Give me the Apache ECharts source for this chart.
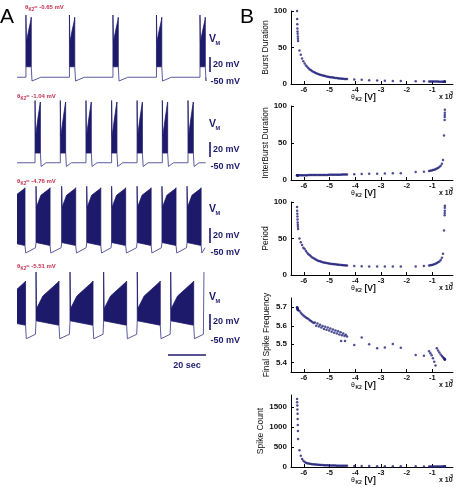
<!DOCTYPE html>
<html>
<head>
<meta charset="utf-8">
<script src="https://cdn.jsdelivr.net/npm/echarts/dist/echarts.min.js"></script>
<style>
  html, body { margin: 0; padding: 0; background: #fff; }
  #chart { width: 457px; height: 487px; }
</style>
</head>
<body>
<div id="chart"></div>
<script>
// ---- panel A: membrane traces, burst onsets in seconds
const traceLabels = ['-0.65', '-1.04', '-4.76', '-5.51'];
const burstOn1 = [4.7, 27.6, 50.5, 73.4, 96.3];
const burstOn2 = [9.5, 22.8, 36.3, 49.8, 63.2, 76.5, 90.0];
const burstOn3 = [-3.2, 10.0, 23.5, 36.7, 49.8, 63.2, 76.3, 89.5];
const burstOn4 = [-7.6, 10.0, 27.9, 45.6, 63.3, 80.9];
const burstLen = [2.8, 2.8, 7.4, 12.1];
const traceEnd = [99.3, 99.3, 99.3, 98.4];

// ---- panel B: parameter sweep (theta_K2, x1e-3 V) and the five measures
const thetaK2 = [
  -6.265, -6.26, -6.255, -6.25, -6.245, -6.24, -6.235, -6.23, -6.225,
  -6.17, -6.12, -6.07, -6.02, -5.97, -5.92, -5.87, -5.82, -5.77, -5.72,
  -5.67, -5.62, -5.57, -5.52, -5.47, -5.42, -5.37, -5.32, -5.27, -5.22,
  -5.17, -5.12, -5.07, -5.02, -4.97, -4.92, -4.87, -4.82, -4.77, -4.72,
  -4.67, -4.62, -4.57, -4.52, -4.47, -4.42, -4.37, -4.32,
  -4.04, -3.75, -3.46, -3.15, -2.85, -2.54, -2.23, -1.65, -1.33,
  -1.13, -1.08, -1.03, -0.98, -0.93, -0.88, -0.83, -0.78, -0.73, -0.68,
  -0.63, -0.59, -0.55, -0.525, -0.522, -0.52, -0.518, -0.515
];
const burstDuration = [
  100, 89, 82, 76, 72, 69, 65, 62, 59,
  46, 40, 35, 31, 28, 25.5, 23.5, 21.5, 20, 18.7,
  17.5, 16.5, 15.6, 14.8, 14.1, 13.4, 12.8, 12.2, 11.7, 11.2,
  10.8, 10.4, 10.0, 9.7, 9.4, 9.1, 8.8, 8.6, 8.3, 8.1,
  7.9, 7.7, 7.5, 7.3, 7.2, 7.0, 6.9, 6.7,
  6.3, 5.7, 5.2, 4.8, 4.5, 4.2, 4.0, 3.7, 3.6,
  3.5, 3.5, 3.4, 3.4, 3.4, 3.3, 3.3, 3.3, 3.2, 3.2,
  3.2, 3.1, 3.1, 3.0, 3.0, 3.0, 3.0, 3.0
];
const interBurst = [
  6.3, 6.3, 6.3, 6.3, 6.3, 6.3, 6.3, 6.3, 6.3,
  6.4, 6.4, 6.4, 6.5, 6.5, 6.5, 6.5, 6.6, 6.6, 6.6,
  6.6, 6.7, 6.7, 6.7, 6.7, 6.8, 6.8, 6.8, 6.8, 6.9,
  6.9, 6.9, 6.9, 7.0, 7.0, 7.0, 7.0, 7.1, 7.1, 7.1,
  7.2, 7.2, 7.2, 7.3, 7.3, 7.3, 7.4, 7.4,
  7.8, 8.1, 8.3, 8.6, 8.8, 9.0, 9.2, 10.8, 11.3,
  12.0, 12.4, 12.9, 13.4, 14.0, 14.6, 15.4, 16.3, 17.4, 19.2,
  22.0, 27.0, 60, 81, 85, 88, 91, 95
];
const period = [
  93, 88, 84, 80, 76, 72, 69, 66, 63,
  50, 45, 41, 37.5, 35.5, 33, 30.5, 28.5, 27, 25.2,
  24, 23, 21.8, 20.8, 20, 19.3, 18.7, 18.1, 17.6, 17.2,
  16.8, 16.4, 16.1, 15.8, 15.5, 15.2, 15.0, 14.8, 14.6, 14.4,
  14.2, 14.0, 13.8, 13.6, 13.5, 13.3, 13.1, 13.0,
  12.5, 12.0, 11.8, 11.6, 11.5, 11.5, 11.5, 11.8, 12.2,
  13.0, 13.3, 13.7, 14.2, 14.8, 15.5, 16.3, 17.3, 18.6, 20.5,
  23.5, 29, 61, 82, 85, 88, 92, 95
];
const finalFreq = [
  5.700, 5.698, 5.696, 5.694, 5.692, 5.690, 5.688, 5.686, 5.684,
  5.680, 5.670, 5.662, 5.655, 5.650, 5.645, 5.640, 5.636, 5.630, 5.626,
  5.620, 5.615, 5.618, 5.600, 5.612, 5.596, 5.605, 5.590, 5.598, 5.582,
  5.594, 5.578, 5.590, 5.574, 5.585, 5.568, 5.580, 5.562, 5.575, 5.558,
  5.570, 5.553, 5.565, 5.548, 5.558, 5.545, 5.552, 5.542,
  5.496, 5.537, 5.500, 5.478, 5.483, 5.501, 5.481, 5.442, 5.438,
  5.462, 5.452, 5.440, 5.425, 5.405, 5.385, 5.478, 5.466, 5.455, 5.445,
  5.437, 5.430, 5.424, 5.420, 5.420, 5.419, 5.418, 5.417
];
const finalFreqExtraTheta = [-4.55, -4.40];
const finalFreqExtra = [5.517, 5.517];
const spikeCount = [
  1700, 1620, 1540, 1440, 1330, 1200, 1050, 900, 700,
  420, 280, 200, 155, 125, 108, 96, 88, 81, 76,
  71, 67, 63, 60, 57, 54, 52, 50, 48, 46,
  44, 43, 41, 40, 39, 38, 37, 36, 35, 34,
  33, 32, 32, 31, 30, 30, 29, 29,
  26, 24, 22, 21, 20, 19, 18, 16, 15,
  14, 14, 14, 13, 13, 13, 13, 13, 12, 12,
  12, 12, 12, 12, 12, 12, 12, 12
];
const xTicks = [-6, -5, -4, -3, -2, -1];

const FONT = '"Liberation Sans", Arial, sans-serif';
const NAVY = '#1e1a6b';
const TRACE = '#5b5b9e';
const RED = '#c43050';
const DOT = '#22227a';

// waveform shape of each run, in mV
const shapes = [
  { rest: -45, ahp: -50, recov: 5, floor0: -31, floor1: -31, first: 38, top0: 2, midAt: 0.5, topMid: 17, top1: 31, last: 35, slow: false, upEnd: false },
  { rest: -45, ahp: -50, recov: 3, floor0: -32, floor1: -32, first: 38, top0: -10, midAt: 0.5, topMid: 12, top1: 33, last: 36, slow: false, upEnd: false },
  { rest: -43, ahp: -50, recov: 0, floor0: -36, floor1: -40, first: 39, top0: 11, midAt: 0.35, topMid: 27, top1: 36, last: 37, slow: true, upEnd: false },
  { rest: -43, ahp: -49, recov: 0, floor0: -25, floor1: -31, first: 40, top0: -9, midAt: 0.3, topMid: 8, top1: 27, last: 28, slow: true, upEnd: true }
];
const traceTops = [13.5, 99, 185.5, 272];

function makeBurst(cfg, len) {
  return function (params, api) {
    const s = api.value(0), next = api.value(1), hasNext = api.value(2) === 1;
    const e = s + len;
    const c = (t, v) => api.coord([t, v]);
    const body = [c(s, cfg.floor0), c(s, cfg.first), c(s + 0.25, cfg.top0),
      c(s + cfg.midAt * len, cfg.topMid), c(e - 0.2, cfg.top1), c(e, cfg.last), c(e, cfg.floor1)];
    let tail;
    if (cfg.slow) {
      tail = [c(e, cfg.floor1), c(e + 0.4, cfg.ahp), c(next - 0.3, cfg.rest)];
    } else {
      tail = [c(e, cfg.floor1), c(e + 0.4, cfg.ahp), c(Math.min(e + cfg.recov, next), cfg.rest), c(next, cfg.rest)];
    }
    if (hasNext) tail.push(c(next, cfg.floor0));
    else if (cfg.upEnd) tail.push(c(next, cfg.first));
    const children = [
      { type: 'polygon', shape: { points: body }, style: { fill: NAVY, stroke: NAVY, lineWidth: 0.8 } },
      { type: 'polyline', shape: { points: tail }, style: { fill: null, stroke: TRACE, lineWidth: 1 } }
    ];
    if (params.dataIndex === 0 && s > 0) {
      children.push({ type: 'polyline', shape: { points: [c(0, cfg.rest), c(s, cfg.rest), c(s, cfg.floor0)] },
        style: { fill: null, stroke: TRACE, lineWidth: 1 } });
    }
    return { type: 'group', children: children };
  };
}

const grid = [], xAxis = [], yAxis = [], series = [];
const bursts = [burstOn1, burstOn2, burstOn3, burstOn4];
bursts.forEach(function (on, k) {
  grid.push({ left: 17, top: traceTops[k], width: 190, height: 75 });
  xAxis.push({ gridIndex: k, type: 'value', min: 0, max: 100, show: false });
  yAxis.push({ gridIndex: k, type: 'value', min: -60, max: 40, show: false });
  series.push({
    type: 'custom', xAxisIndex: k, yAxisIndex: k, clip: true, silent: true,
    renderItem: makeBurst(shapes[k], burstLen[k]),
    data: on.map((s, i) => [s, i + 1 < on.length ? on[i + 1] : traceEnd[k], i + 1 < on.length ? 1 : 0])
  });
});

// right panel axes
const panels = [
  { name: 'Burst Duration', top: 11, height: 73, min: 0, max: 100, ticks: [0, 50, 100], gap: 20, data: burstDuration },
  { name: 'InterBurst Duration', top: 106, height: 74, min: 0, max: 100, ticks: [0, 50, 100], gap: 20, data: interBurst },
  { name: 'Period', top: 202, height: 73, min: 0, max: 100, ticks: [0, 50, 100], gap: 20, data: period },
  { name: 'Final Spike Frequency', top: 298, height: 74, min: 5.35, max: 5.75, ticks: [5.4, 5.5, 5.6, 5.7], gap: 20, data: finalFreq, dec: 1 },
  { name: 'Spike Count', top: 395, height: 72, min: 0, max: 1800, ticks: [0, 500, 1000, 1500], gap: 25, data: spikeCount }
];
panels.forEach(function (p, j) {
  const gi = 4 + j;
  grid.push({ left: 291, top: p.top, width: 162, height: p.height });
  xAxis.push({
    gridIndex: gi, type: 'value', min: -6.5, max: -0.2,
    axisLine: { show: true, onZero: false, lineStyle: { color: '#000', width: 1 } },
    axisTick: { show: true, inside: true, length: 3, customValues: xTicks, lineStyle: { color: '#000' } },
    axisLabel: { customValues: xTicks, fontSize: 7.5, fontWeight: 'bold', fontFamily: FONT, color: '#111', margin: 1.5 },
    splitLine: { show: false }
  });
  yAxis.push({
    gridIndex: gi, type: 'value', min: p.min, max: p.max,
    name: p.name, nameLocation: 'middle', nameGap: p.gap,
    nameTextStyle: { fontSize: 8.5, fontFamily: FONT, color: '#111' },
    axisLine: { show: true, lineStyle: { color: '#000', width: 1 } },
    axisTick: { show: true, inside: true, length: 3, customValues: p.ticks, lineStyle: { color: '#000' } },
    axisLabel: { customValues: p.ticks, fontSize: 8, fontWeight: 'bold', fontFamily: FONT, color: '#111', margin: 4,
      formatter: v => p.dec ? v.toFixed(p.dec) : String(v) },
    splitLine: { show: false }
  });
  series.push({
    type: 'scatter', xAxisIndex: gi, yAxisIndex: gi, silent: true,
    symbol: 'circle', symbolSize: 2.5, itemStyle: { color: DOT },
    data: thetaK2.map((t, i) => [t, p.data[i]])
  });
});
series.push({
  type: 'scatter', xAxisIndex: 7, yAxisIndex: 7, silent: true,
  symbol: 'circle', symbolSize: 2.5, itemStyle: { color: DOT },
  data: finalFreqExtraTheta.map((t, i) => [t, finalFreqExtra[i]])
});

// annotations
function txt(x, y, s, size, color, opts) {
  return { type: 'text', x: x, y: y, silent: true, z: 10,
    style: Object.assign({ text: s, fontSize: size, fontFamily: FONT, fill: color, align: 'left', verticalAlign: 'middle' }, opts || {}) };
}
function bar(x1, y1, x2, y2) {
  return { type: 'line', silent: true, shape: { x1: x1, y1: y1, x2: x2, y2: y2 }, style: { stroke: NAVY, lineWidth: 1.6 } };
}
const graphic = [txt(0, 17, 'A', 21, '#000'), txt(240, 17, 'B', 21, '#000')];

const labelPos = [[25, 7], [17, 96], [17, 181], [17, 266]];
labelPos.forEach(function (pos, k) {
  graphic.push(txt(pos[0], pos[1], 'θ', 6, RED, { fontWeight: 'bold' }));
  graphic.push(txt(pos[0] + 3.6, pos[1] + 2.5, 'K2', 4.5, RED, { fontWeight: 'bold' }));
  graphic.push(txt(pos[0] + 9, pos[1], '= ' + traceLabels[k] + ' mV', 6, RED, { fontWeight: 'bold' }));
});

// V_M, 20 mV bars and -50 mV marks next to each trace
const vmY = [39, 124, 209, 297];
const barY = [[57, 72], [142, 157], [228, 243], [314, 330]];
const minusY = [82, 167, 253, 341];
vmY.forEach(function (y, k) {
  graphic.push(txt(209, y, 'V', 10.5, NAVY, { fontWeight: 'bold' }));
  graphic.push(txt(215.5, y + 4, 'M', 5.5, NAVY, { fontWeight: 'bold' }));
  graphic.push(bar(210, barY[k][0], 210, barY[k][1]));
  graphic.push(txt(213, (barY[k][0] + barY[k][1]) / 2, '20 mV', 9, NAVY, { fontWeight: 'bold' }));
  graphic.push(txt(210.5, minusY[k], '-50 mV', 9, NAVY, { fontWeight: 'bold' }));
});
graphic.push(bar(168, 355, 206, 355));
graphic.push(txt(187, 366, '20 sec', 9, NAVY, { fontWeight: 'bold', align: 'center' }));

// x labels of the right panel
[84, 180, 275, 372, 467].forEach(function (b) {
  graphic.push(txt(351, b + 13.5, 'θ', 7, '#111'));
  graphic.push(txt(355.5, b + 15.5, 'K2', 5, '#111', { fontWeight: 'bold' }));
  graphic.push(txt(364.5, b + 13.5, '[V]', 8.5, '#111', { fontWeight: 'bold' }));
  graphic.push(txt(439, b + 13.5, 'x 10', 7, '#111', { fontWeight: 'bold' }));
  graphic.push(txt(453, b + 10, '-3', 5, '#111', { fontWeight: 'bold', align: 'right' }));
});

const chart = echarts.init(document.getElementById('chart'), null, { renderer: 'canvas' });
chart.setOption({
  animation: false,
  backgroundColor: '#fff',
  grid: grid,
  xAxis: xAxis,
  yAxis: yAxis,
  series: series,
  graphic: graphic
});
</script>
</body>
</html>
